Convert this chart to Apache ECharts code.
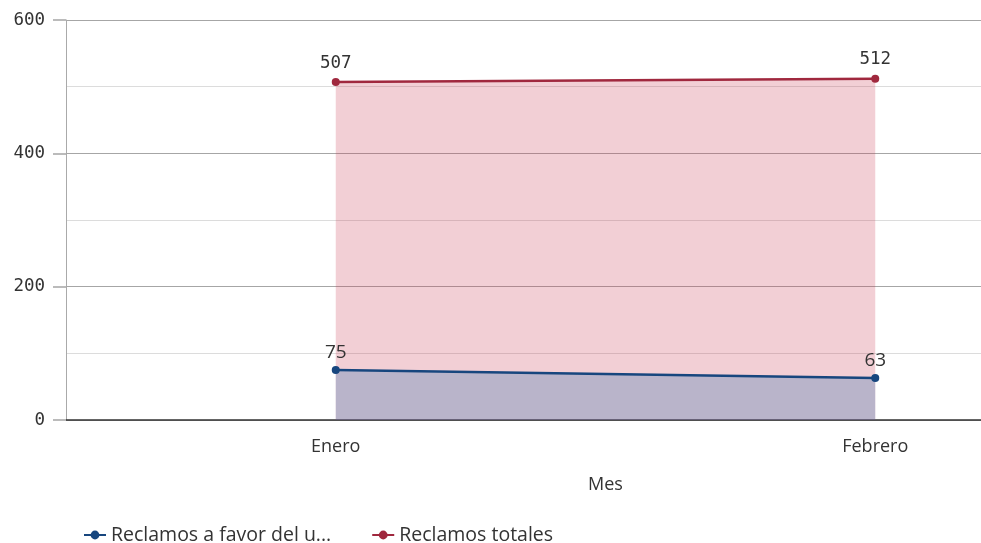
<!DOCTYPE html>
<html><head><meta charset="utf-8">
<script src="https://cdn.jsdelivr.net/npm/echarts@6/dist/echarts.min.js"></script>
<style>html,body{margin:0;padding:0;background:#fff}#c{width:981px;height:543px}</style>
</head><body><div id="c"></div>
<script>
const categories = ['Enero', 'Febrero'];
const favorUsuario = [75, 63];
const totales = [507, 512];
const seriesNames = ['Reclamos a favor del usuario', 'Reclamos totales'];

const chart = echarts.init(document.getElementById('c'));
const sans = 'Open Sans';
const mono = 'DejaVu Sans Mono';
chart.setOption({
  animation: false,
  grid: { left: 66, width: 1079, top: 20, bottom: 123, containLabel: false, outerBoundsMode: 'none' },
  legend: {
    left: 78, top: 520, itemWidth: 22, itemHeight: 11, itemGap: 40,
    textStyle: { fontFamily: sans, fontSize: 19.5, color: '#333' },
    formatter: function (n) { return n.length > 24 ? n.slice(0, 22) + '...' : n; },
    data: seriesNames
  },
  xAxis: {
    type: 'category', data: categories, boundaryGap: true,
    name: 'Mes', nameLocation: 'middle', nameGap: 56,
    nameTextStyle: { fontFamily: sans, fontSize: 18, color: '#333' },
    axisLine: { lineStyle: { color: '#333', width: 1.5 } },
    axisTick: { show: false },
    axisLabel: { fontFamily: sans, fontSize: 18, color: '#333', margin: 18 },
    splitLine: { show: false }
  },
  yAxis: {
    type: 'value', min: 0, max: 600, interval: 200,
    axisLine: { show: true, lineStyle: { color: '#aaa' } },
    axisTick: { show: true, length: 13, lineStyle: { color: '#bbb', width: 2 } },
    axisLabel: { fontFamily: mono, fontSize: 17.5, color: '#333', margin: 21 },
    splitLine: { show: true, lineStyle: { color: '#a6a6a6', width: 1 } },
    minorTick: { show: false, splitNumber: 2 },
    minorSplitLine: { show: true, lineStyle: { color: '#dcdcdc', width: 1 } }
  },
  series: [
    {
      name: seriesNames[1], type: 'line', data: totales, z: 2,
      symbol: 'circle', symbolSize: 8,
      lineStyle: { color: '#a0283e', width: 2.5 },
      itemStyle: { color: '#a0283e' },
      areaStyle: { color: '#c8374e', opacity: 0.24 },
      label: { show: true, position: 'top', distance: 6, fontFamily: mono, fontSize: 17.5, color: '#333' }
    },
    {
      name: seriesNames[0], type: 'line', data: favorUsuario, z: 3,
      symbol: 'circle', symbolSize: 8,
      lineStyle: { color: '#17467e', width: 2.5 },
      itemStyle: { color: '#17467e' },
      areaStyle: { color: '#3673ae', opacity: 0.3 },
      label: { show: true, position: 'top', distance: 4, fontFamily: sans, fontSize: 19, color: '#333' }
    }
  ]
});
</script></body></html>
